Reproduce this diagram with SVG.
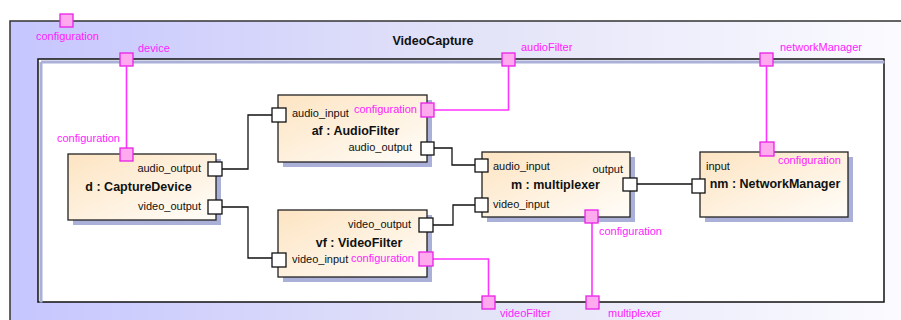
<svg xmlns="http://www.w3.org/2000/svg" width="901" height="320" viewBox="0 0 901 320">
<defs>
<linearGradient id="frameGrad" x1="0" y1="0" x2="1" y2="0">
<stop offset="0" stop-color="#c6c6ff"/>
<stop offset="0.5" stop-color="#e2e2f8"/>
<stop offset="1" stop-color="#fbfbff"/>
</linearGradient>
<linearGradient id="boxGrad" x1="0" y1="0" x2="1" y2="1">
<stop offset="0" stop-color="#fde4c2"/>
<stop offset="1" stop-color="#fffdf9"/>
</linearGradient>
</defs>
<style>
.frame{fill:url(#frameGrad);stroke:#333;stroke-width:1.5}
.inner{fill:#fff;stroke:#111;stroke-width:1.5}
.box{fill:url(#boxGrad);stroke:#222;stroke-width:1.3}
.shadow{fill:#aab0d8}
.port{fill:#fff;stroke:#111;stroke-width:1.3}
.mport{fill:#ffaaee;stroke:#e820e8;stroke-width:1.3}
.wire{fill:none;stroke:#111;stroke-width:1.3}
.mwire{fill:none;stroke:#ff33ff;stroke-width:1.6}
text{font-family:"Liberation Sans",Arial,sans-serif;font-size:11px;fill:#111}
.m{fill:#ff22ff}
.b{font-weight:bold;font-size:12.5px;text-anchor:middle}
.e{text-anchor:end}
</style>
<g id="VideoCapture">
<rect class="frame" x="10" y="21" width="900" height="310"/>
<rect class="inner" x="38" y="59" width="846" height="243"/>
<path d="M39.5 60.5H883M39.5 60.5V301" fill="none" stroke="#aab0d8" stroke-width="3" transform="translate(1.5,1.5)"/>
<text class="b" x="433" y="45">VideoCapture</text>
<rect class="mport" x="60" y="14" width="13" height="13"/>
<text class="m" x="36" y="40">configuration</text>
<rect class="mport" x="120" y="53" width="13" height="13"/>
<text class="m" x="138" y="52">device</text>
<rect class="mport" x="502" y="53" width="13" height="13"/>
<text class="m" x="521" y="51">audioFilter</text>
<rect class="mport" x="760" y="53" width="13" height="13"/>
<text class="m" x="780" y="51">networkManager</text>
<rect class="mport" x="482" y="296" width="13" height="13"/>
<text class="m" x="500" y="317">videoFilter</text>
<rect class="mport" x="586" y="296" width="13" height="13"/>
<text class="m" x="608" y="317">multiplexer</text>
</g>
<g id="connectors">
<path class="mwire" d="M126.5 66V148"/>
<path class="mwire" d="M434 110H508.5V66"/>
<path class="mwire" d="M766.5 66V142"/>
<path class="mwire" d="M433 259H488.5V296"/>
<path class="mwire" d="M592 223V296"/>
<path class="wire" d="M222 169H248V115H272"/>
<path class="wire" d="M222 207H248V258H272"/>
<path class="wire" d="M434 148H452V165H475"/>
<path class="wire" d="M433 225H453V205H475"/>
<path class="wire" d="M637 184H692"/>
</g>
<g id="d">
<rect class="shadow" x="73" y="159" width="148" height="66"/>
<rect class="box" x="68" y="154" width="148" height="66"/>
<rect class="mport" x="120" y="148" width="13" height="13"/>
<text class="m" x="57" y="142">configuration</text>
<rect class="port" x="208" y="162" width="14" height="14"/>
<rect class="port" x="208" y="200" width="14" height="14"/>
<text class="e" x="201" y="172">audio_output</text>
<text class="b" x="138.5" y="191">d : CaptureDevice</text>
<text class="e" x="201" y="210">video_output</text>
</g>
<g id="af">
<rect class="shadow" x="283" y="100" width="149" height="67"/>
<rect class="box" x="278" y="95" width="149" height="67"/>
<rect class="port" x="272" y="108" width="14" height="14"/>
<rect class="mport" x="421" y="103" width="13" height="14"/>
<rect class="port" x="421" y="142" width="13" height="13"/>
<text x="292" y="117">audio_input</text>
<text class="m e" x="417" y="113">configuration</text>
<text class="b" x="355.5" y="135">af : AudioFilter</text>
<text class="e" x="412" y="151">audio_output</text>
</g>
<g id="vf">
<rect class="shadow" x="283" y="215" width="149" height="67"/>
<rect class="box" x="278" y="210" width="149" height="67"/>
<rect class="port" x="419" y="218" width="14" height="14"/>
<rect class="port" x="272" y="253" width="14" height="14"/>
<rect class="mport" x="419" y="252" width="14" height="14"/>
<text class="e" x="411" y="228">video_output</text>
<text class="b" x="359" y="247">vf : VideoFilter</text>
<text x="292" y="263">video_input</text>
<text class="m e" x="414" y="262">configuration</text>
</g>
<g id="m">
<rect class="shadow" x="487" y="157" width="148" height="65"/>
<rect class="box" x="482" y="152" width="148" height="65"/>
<rect class="port" x="475" y="159" width="13" height="13"/>
<rect class="port" x="475" y="198" width="13" height="14"/>
<rect class="port" x="623" y="178" width="14" height="13"/>
<rect class="mport" x="585" y="210" width="13" height="13"/>
<text x="493" y="170">audio_input</text>
<text class="e" x="623" y="173">output</text>
<text class="b" x="555.5" y="189">m : multiplexer</text>
<text x="493" y="208">video_input</text>
<text class="m" x="599" y="235">configuration</text>
</g>
<g id="nm">
<rect class="shadow" x="705" y="157" width="148" height="65"/>
<rect class="box" x="700" y="152" width="148" height="65"/>
<rect class="mport" x="760" y="142" width="14" height="14"/>
<rect class="port" x="692" y="179" width="13" height="14"/>
<text x="706" y="170">input</text>
<text class="m" x="778" y="164">configuration</text>
<text class="b" x="775" y="188">nm : NetworkManager</text>
</g>
</svg>
